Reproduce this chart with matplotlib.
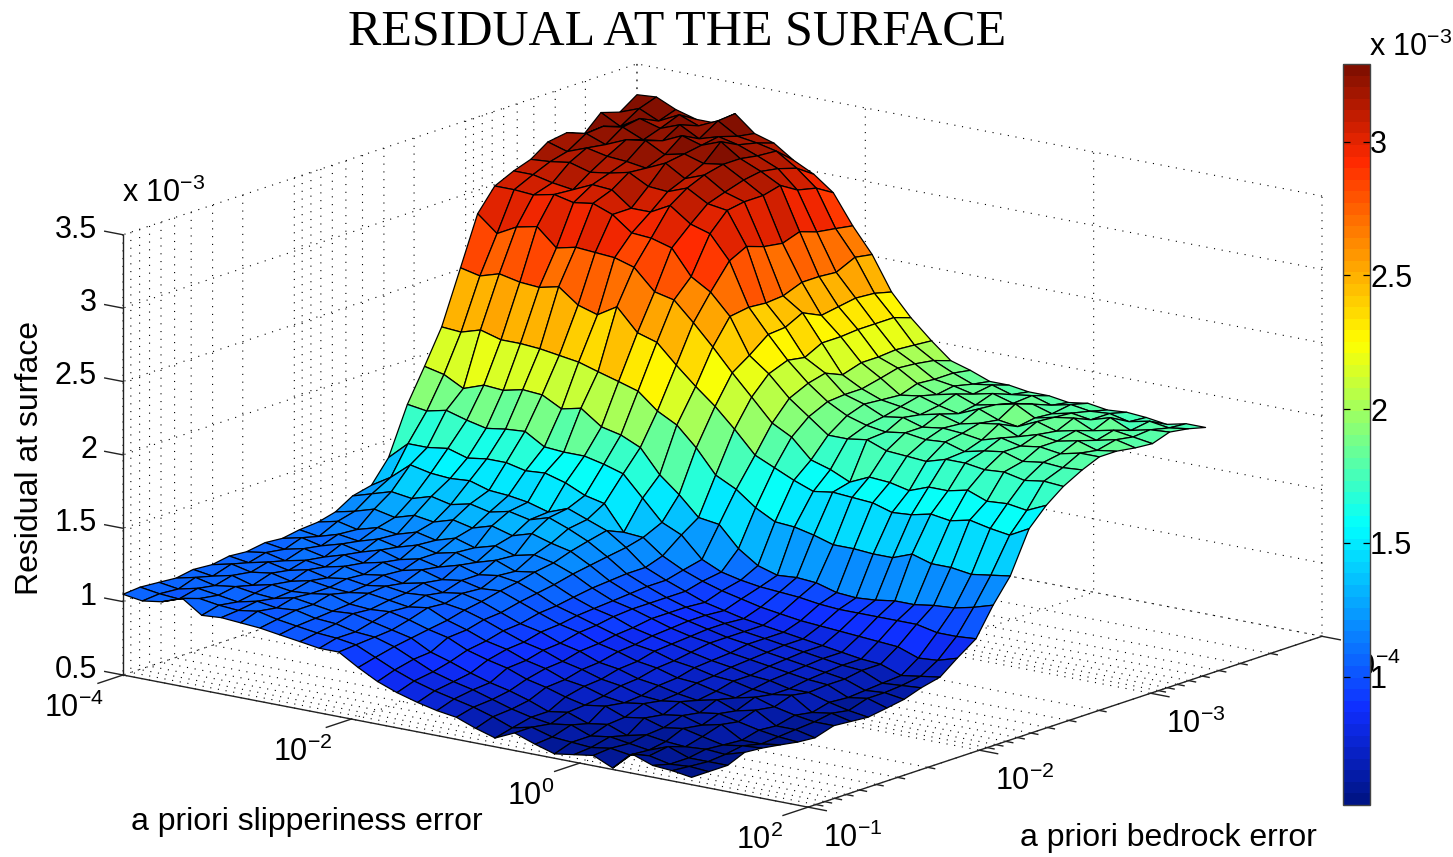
import numpy as np
import matplotlib
matplotlib.use("Agg")
import matplotlib.pyplot as plt
from matplotlib import cm
from matplotlib.colors import LinearSegmentedColormap, Normalize
from mpl_toolkits.mplot3d import proj3d

plt.rcParams['font.family'] = ['Liberation Sans', 'DejaVu Sans']
plt.rcParams['mathtext.default'] = 'regular'
plt.rcParams['grid.color'] = 'k'
plt.rcParams['grid.linewidth'] = 0.8
plt.rcParams['grid.linestyle'] = (0, (1, 6))

# log10 of the a priori errors at the surface nodes
slip_exp = [-4.00, -3.83, -3.66, -3.48, -3.31, -3.14, -2.97, -2.80, -2.63, -2.45, -2.28, -2.11, -1.94, -1.77, -1.60,
            -1.42, -1.25, -1.08, -0.91, -0.74, -0.57, -0.39, -0.22, -0.05, 0.12, 0.29, 0.46, 0.64, 0.81, 0.98]
bed_exp = [-1.00, -1.10, -1.21, -1.31, -1.41, -1.52, -1.62, -1.72, -1.83, -1.93, -2.03, -2.14, -2.24, -2.34, -2.45,
           -2.55, -2.66, -2.76, -2.86, -2.97, -3.07, -3.17, -3.28, -3.38, -3.48, -3.59, -3.69, -3.79, -3.90, -4.00]

# residual at surface (x 1e-3), one row per bedrock error
resid = [
    [1.05, 1.03, 1.05, 1.10, 1.01, 1.02, 1.01, 1.00, .98, .96, .94, .94, .86, .79, .74, .70, .67, .65, .60, .56, .62, .57, .53, .55, .57, .51, .63, .58, .57, .55],
    [1.06, 1.04, 1.03, 1.06, 1.04, 1.03, 1.05, 1.02, 1.00, .98, .97, .95, .89, .83, .78, .74, .71, .68, .64, .59, .62, .58, .57, .56, .58, .56, .58, .55, .56, .55],
    [1.05, 1.03, 1.06, 1.04, 1.02, 1.05, 1.03, 1.04, 1.01, 1.00, .97, .96, .92, .86, .80, .76, .73, .69, .65, .62, .60, .62, .57, .59, .57, .55, .60, .55, .55, .55],
    [1.04, 1.07, 1.04, 1.06, 1.04, 1.03, 1.06, 1.04, 1.02, 1.03, 1.00, .97, .94, .87, .83, .78, .74, .71, .67, .62, .64, .59, .61, .56, .59, .57, .56, .57, .56, .60],
    [1.06, 1.04, 1.07, 1.03, 1.06, 1.04, 1.05, 1.07, 1.03, 1.02, 1.03, 1.00, .96, .93, .87, .83, .80, .75, .72, .68, .65, .67, .62, .64, .60, .62, .59, .56, .58, .59],
    [1.05, 1.08, 1.05, 1.07, 1.04, 1.07, 1.05, 1.04, 1.06, 1.04, 1.02, 1.04, .98, .94, .89, .86, .81, .78, .73, .71, .67, .65, .67, .62, .64, .60, .63, .55, .55, .57],
    [1.07, 1.05, 1.08, 1.05, 1.08, 1.05, 1.07, 1.05, 1.07, 1.05, 1.06, 1.03, 1.01, .97, .92, .87, .84, .79, .76, .72, .70, .66, .65, .67, .62, .64, .61, .58, .56, .55],
    [1.06, 1.08, 1.05, 1.08, 1.06, 1.09, 1.06, 1.08, 1.05, 1.08, 1.04, 1.06, 1.03, .98, .93, .90, .85, .82, .77, .75, .71, .69, .66, .64, .67, .62, .65, .57, .57, .54],
    [1.08, 1.06, 1.09, 1.06, 1.10, 1.07, 1.10, 1.07, 1.10, 1.06, 1.08, 1.05, 1.06, 1.01, .96, .91, .88, .83, .80, .76, .74, .70, .69, .66, .64, .67, .63, .60, .58, .58],
    [1.07, 1.10, 1.07, 1.11, 1.08, 1.12, 1.08, 1.11, 1.08, 1.12, 1.08, 1.10, 1.08, 1.03, .97, .93, .89, .85, .81, .79, .75, .73, .70, .69, .66, .65, .67, .58, .60, .57],
    [1.09, 1.07, 1.11, 1.09, 1.13, 1.10, 1.14, 1.11, 1.14, 1.10, 1.14, 1.09, 1.11, 1.05, .99, .94, .91, .86, .83, .80, .77, .74, .72, .69, .68, .65, .65, .61, .58, .56],
    [1.10, 1.13, 1.10, 1.14, 1.12, 1.16, 1.13, 1.17, 1.13, 1.17, 1.13, 1.16, 1.13, 1.08, 1.01, .95, .92, .88, .84, .81, .79, .75, .73, .71, .69, .67, .66, .60, .62, .58],
    [1.13, 1.16, 1.20, 1.17, 1.21, 1.19, 1.23, 1.20, 1.24, 1.20, 1.24, 1.20, 1.17, 1.10, 1.02, .96, .92, .88, .85, .82, .79, .77, .74, .72, .70, .68, .66, .61, .62, .60],
    [1.20, 1.24, 1.28, 1.26, 1.30, 1.27, 1.30, 1.27, 1.30, 1.27, 1.31, 1.26, 1.20, 1.12, 1.03, .97, .92, .88, .85, .82, .79, .77, .75, .73, .71, .69, .68, .62, .63, .64],
    [1.23, 1.31, 1.42, 1.39, 1.38, 1.39, 1.35, 1.34, 1.32, 1.28, 1.33, 1.28, 1.23, 1.14, 1.03, .97, .92, .87, .84, .81, .79, .77, .75, .73, .71, .69, .68, .63, .65, .67],
    [1.38, 1.50, 1.50, 1.52, 1.48, 1.50, 1.50, 1.47, 1.48, 1.44, 1.38, 1.35, 1.18, 1.17, 1.07, 1.00, .95, .91, .88, .85, .83, .81, .80, .79, .78, .77, .76, .71, .72, .76],
    [1.70, 1.68, 1.71, 1.67, 1.64, 1.66, 1.67, 1.59, 1.58, 1.58, 1.55, 1.51, 1.37, 1.23, 1.17, 1.03, .97, .94, .92, .91, .90, .88, .87, .87, .87, .87, .87, .84, .84, .85],
    [1.92, 1.89, 1.82, 1.87, 1.86, 1.89, 1.88, 1.81, 1.84, 1.74, 1.71, 1.65, 1.49, 1.38, 1.25, 1.23, 1.09, 1.00, .96, .97, .96, .92, .91, .92, .94, .94, .96, .97, 1.00, 1.04],
    [2.15, 2.14, 2.18, 2.14, 2.14, 2.13, 2.11, 2.09, 2.05, 2.01, 1.97, 1.86, 1.79, 1.66, 1.50, 1.43, 1.33, 1.26, 1.25, 1.22, 1.18, 1.18, 1.17, 1.17, 1.22, 1.18, 1.18, 1.16, 1.18, 1.20],
    [2.51, 2.48, 2.52, 2.49, 2.48, 2.51, 2.41, 2.37, 2.45, 2.30, 2.26, 2.13, 2.01, 1.90, 1.77, 1.62, 1.56, 1.50, 1.45, 1.47, 1.46, 1.45, 1.41, 1.42, 1.45, 1.43, 1.46, 1.43, 1.41, 1.48],
    [2.84, 2.73, 2.80, 2.83, 2.71, 2.74, 2.73, 2.72, 2.68, 2.54, 2.51, 2.38, 2.24, 2.09, 1.95, 1.80, 1.73, 1.60, 1.56, 1.50, 1.56, 1.55, 1.52, 1.57, 1.57, 1.60, 1.55, 1.56, 1.54, 1.60],
    [2.99, 2.99, 2.98, 3.01, 2.98, 3.00, 2.95, 2.85, 2.84, 2.80, 2.63, 2.55, 2.41, 2.17, 2.07, 1.93, 1.83, 1.73, 1.73, 1.75, 1.70, 1.69, 1.68, 1.72, 1.72, 1.70, 1.71, 1.68, 1.70, 1.69],
    [3.05, 3.05, 3.02, 3.00, 3.06, 3.05, 2.95, 2.95, 3.02, 2.92, 2.88, 2.72, 2.43, 2.27, 2.12, 1.99, 1.89, 1.82, 1.78, 1.76, 1.78, 1.76, 1.77, 1.73, 1.76, 1.78, 1.74, 1.76, 1.75, 1.76],
    [3.09, 3.10, 3.12, 3.08, 3.10, 3.13, 3.06, 3.05, 3.10, 3.02, 3.00, 2.78, 2.42, 2.28, 2.10, 2.02, 1.90, 1.86, 1.80, 1.82, 1.78, 1.80, 1.79, 1.77, 1.81, 1.78, 1.80, 1.78, 1.81, 1.81],
    [3.17, 3.13, 3.18, 3.15, 3.14, 3.12, 3.18, 3.10, 3.15, 3.06, 3.02, 2.74, 2.43, 2.34, 2.16, 1.97, 1.90, 1.85, 1.83, 1.80, 1.83, 1.79, 1.82, 1.84, 1.78, 1.82, 1.80, 1.83, 1.79, 1.81],
    [3.19, 3.21, 3.16, 3.22, 3.24, 3.17, 3.20, 3.16, 3.18, 3.10, 3.02, 2.72, 2.48, 2.28, 2.16, 2.01, 1.93, 1.84, 1.86, 1.82, 1.79, 1.85, 1.80, 1.78, 1.84, 1.80, 1.83, 1.79, 1.82, 1.79],
    [3.14, 3.22, 3.24, 3.18, 3.20, 3.26, 3.22, 3.27, 3.18, 3.12, 3.05, 2.76, 2.48, 2.30, 2.17, 2.01, 1.96, 1.88, 1.83, 1.86, 1.81, 1.84, 1.87, 1.80, 1.83, 1.85, 1.79, 1.82, 1.80, 1.78],
    [3.25, 3.18, 3.26, 3.22, 3.27, 3.20, 3.24, 3.21, 3.16, 3.10, 2.98, 2.72, 2.47, 2.32, 2.17, 2.02, 1.95, 1.87, 1.85, 1.82, 1.85, 1.81, 1.83, 1.79, 1.82, 1.80, 1.84, 1.78, 1.81, 1.82],
    [3.21, 3.26, 3.20, 3.27, 3.22, 3.28, 3.20, 3.18, 3.15, 3.06, 2.95, 2.70, 2.53, 2.31, 2.17, 2.01, 1.93, 1.87, 1.82, 1.84, 1.80, 1.82, 1.78, 1.81, 1.79, 1.80, 1.77, 1.80, 1.78, 1.80],
    [3.29, 3.30, 3.24, 3.20, 3.20, 3.29, 3.18, 3.14, 3.05, 2.98, 2.88, 2.68, 2.51, 2.28, 2.13, 2.00, 1.89, 1.85, 1.80, 1.80, 1.78, 1.78, 1.76, 1.78, 1.76, 1.77, 1.76, 1.74, 1.77, 1.77],
]

slip_decades = [-4, -2, 0, 2]
bed_decades = [-1, -2, -3, -4]
z_ticks = [0.5, 1, 1.5, 2, 2.5, 3, 3.5]
z_labels = ['0.5', '1', '1.5', '2', '2.5', '3', '3.5']
cbar_ticks = [1, 1.5, 2, 2.5, 3]
cbar_labels = ['1', '1.5', '2', '2.5', '3']

FS = 23
TICK_FS = 22
W, H = 1453, 857
XMIN, XMAX = -4, 2
YMIN, YMAX = 1, 4   # y is minus log10(bedrock error), so it grows towards the right corner
ZMIN, ZMAX = 0.5, 3.5

# jet with 64 levels, ends as in the picture
jet64 = LinearSegmentedColormap.from_list('jet64', [
    (0, (0, 0.08, 0.53)), (0.125, (0.06, 0.18, 1)), (0.375, (0, 1, 1)),
    (0.625, (1, 1, 0)), (0.875, (1, 0.16, 0)), (1, (0.51, 0.06, 0))], N=64)
norm = Normalize(vmin=0.52, vmax=3.29)

fig = plt.figure(figsize=(W / 100, H / 100), dpi=100, facecolor='white')
side = 1400
ax = fig.add_axes([0, 0, side / W, side / H], projection='3d', proj_type='ortho')
ax.view_init(elev=14.67, azim=-52.7, roll=0)

# rows run from the far side, so a cell takes the colour of its far left node like MATLAB's flat shading
X, Y = np.meshgrid(slip_exp, -np.array(bed_exp))
Z = np.array(resid)
surf = ax.plot_surface(X[::-1], Y[::-1], Z[::-1], rstride=1, cstride=1, facecolors=jet64(norm(Z[::-1])),
                       linewidth=0.9, shade=False, antialiased=True)
surf.set_edgecolor('k')

# walls: log grid for the bedrock axis, decades only for the slipperiness axis
subs = np.log10(np.arange(1, 10))
y_grid = [-(d + s) for d in range(-4, -1) for s in subs] + [YMIN]
ax.set_xticks(slip_decades)
ax.set_yticks(y_grid)
ax.set_zticks(z_ticks)
ax.set_xticklabels([])
ax.set_yticklabels([])
ax.set_zticklabels([])
for axis in (ax.xaxis, ax.yaxis, ax.zaxis):
    axis.set_pane_color((1, 1, 1, 1))
    axis.pane.set_edgecolor('none')
    axis.line.set_color('none')
    axis._axinfo['tick']['inward_factor'] = 0
    axis._axinfo['tick']['outward_factor'] = 0

# solid axis edges and ticks
line_kw = dict(color='#222222', lw=1.0)
ax.plot([XMIN, XMAX], [YMIN, YMIN], [ZMIN, ZMIN], **line_kw)
ax.plot([XMAX, XMAX], [YMIN, YMAX], [ZMIN, ZMIN], **line_kw)
ax.plot([XMIN, XMIN], [YMIN, YMIN], [ZMIN, ZMAX], **line_kw)
for xv in slip_decades:
    ax.plot([xv, xv], [YMIN - 0.146, YMIN], [ZMIN, ZMIN], **line_kw)
for yv in y_grid:
    length = 0.16 if abs(yv - round(yv)) < 1e-9 else 0.06
    ax.plot([XMAX, XMAX + length], [yv, yv], [ZMIN, ZMIN], **line_kw)
for zv in z_ticks:
    ax.plot([XMIN - 0.16, XMIN], [YMIN, YMIN], [zv, zv], **line_kw)

# tick labels, the last bedrock one runs under the colorbar as in the original
for d in slip_decades:
    ax.text(d, YMIN - 0.285, ZMIN - 0.116, '10$^{%d}$' % d, ha='center', va='center', fontsize=TICK_FS)
for d in bed_decades:
    shift = 0.03 if d == -4 else 0
    ax.text(XMAX + 0.396 + shift, -d, ZMIN - 0.15, '10$^{%d}$' % d, ha='center', va='center', fontsize=TICK_FS)
for zv, lab in zip(z_ticks, z_labels):
    ax.text(XMIN - 0.228, YMIN, zv, lab, ha='right', va='center', fontsize=TICK_FS)

ax.set_xlim(XMIN, XMAX, view_margin=0)
ax.set_ylim(YMIN, YMAX, view_margin=0)
ax.set_zlim(ZMIN, ZMAX, view_margin=0)


def corner_px(x, y, z):
    xs, ys, _ = proj3d.proj_transform(x, y, z, ax.get_proj())
    return ax.transData.transform((float(xs), float(ys)))


# fit the box onto the corners measured in the reference
aspect = (861, 848, 455)
ax.set_box_aspect(aspect)
ax.apply_aspect()
width = corner_px(XMAX, YMAX, ZMIN)[0] - corner_px(XMIN, YMIN, ZMIN)[0]
ax.set_box_aspect(aspect, zoom=(1322 - 123) / width)
left = corner_px(XMIN, YMIN, ZMIN)
pos = ax.get_position()
ax.set_position([pos.x0 + (123 - left[0]) / W, pos.y0 + (H - 675 - left[1]) / H, pos.width, pos.height])

# colorbar
cax = fig.add_axes([1343 / W, (H - 805) / H, 27 / W, 741 / H], zorder=5)
cbar = fig.colorbar(cm.ScalarMappable(norm=norm, cmap=jet64), cax=cax)
cbar.set_ticks(cbar_ticks)
cbar.set_ticklabels(cbar_labels)
cbar.ax.tick_params(which='both', direction='in', length=5, width=0.9, left=True, right=True,
                    labelsize=TICK_FS, pad=0)
cbar.ax.minorticks_off()
cbar.outline.set_edgecolor('#444444')
cbar.outline.set_linewidth(1.0)

# title, axis labels, multipliers
fig.text(677 / W, 1 - 32 / H, 'RESIDUAL AT THE SURFACE', family=['Liberation Serif'], fontsize=36,
         ha='center', va='center')
fig.text(307 / W, 1 - 822 / H, 'a priori slipperiness error', fontsize=FS, ha='center', va='center')
fig.text(1168 / W, 1 - 838 / H, 'a priori bedrock error', fontsize=FS, ha='center', va='center')
fig.text(30 / W, 1 - 458 / H, 'Residual at surface', fontsize=FS, rotation=90, ha='center', va='center')
fig.text(122 / W, 1 - 193 / H, 'x 10$^{-3}$', fontsize=TICK_FS, ha='left', va='center')
fig.text(1369 / W, 1 - 47 / H, 'x 10$^{-3}$', fontsize=TICK_FS, ha='left', va='center')

fig.savefig('out.png', dpi=100)
